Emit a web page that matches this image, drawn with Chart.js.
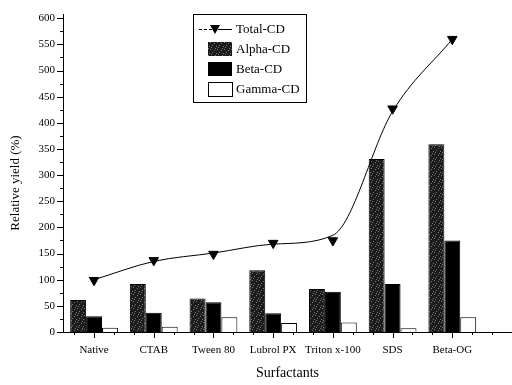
<!DOCTYPE html>
<html>
<head>
<meta charset="utf-8">
<script src="https://cdn.jsdelivr.net/npm/chart.js@4/dist/chart.umd.min.js"></script>
<style>
  html, body { margin: 0; padding: 0; background: #fff; }
  #wrap { width: 512px; height: 385px; }
</style>
</head>
<body>
<div id="wrap"><canvas id="myChart" width="512" height="385"></canvas></div>
<script>
// data
const surfactants = ['Native', 'CTAB', 'Tween 80', 'Lubrol PX', 'Triton x-100', 'SDS', 'Beta-OG'];
const alphaCD = [61, 92, 64, 118, 82, 331, 359];
const betaCD = [30, 37, 57, 36, 77, 92, 175];
const gammaCD = [8, 10, 28, 17, 18, 7, 28];
const totalCD = [99, 137, 149, 170, 175, 427, 560];
// smooth fitted curve through the totals
const totalFit = [100, 135, 151, 168, 185, 422, 560];
const yTicks = [0, 50, 100, 150, 200, 250, 300, 350, 400, 450, 500, 550, 600];

const serif = '"Liberation Serif", "Times New Roman", serif';

// speckled fill for the Alpha-CD bars
function makeSpeckle() {
    const c = document.createElement('canvas');
    c.width = 7; c.height = 7;
    const g = c.getContext('2d');
    g.fillStyle = '#1c1c1c';
    g.fillRect(0, 0, 7, 7);
    g.fillStyle = '#7a7a7a';
    const dots = [[0, 0], [4, 1], [2, 3], [6, 4], [1, 5], [5, 6]];
    dots.forEach(d => g.fillRect(d[0], d[1], 1, 1));
    return g.createPattern(c, 'repeat');
}

const ctx = document.getElementById('myChart').getContext('2d');
const speckle = makeSpeckle();

function xy(arr) {
    return arr.map((v, i) => ({ x: i + 1, y: v }));
}

// minor/major ticks, y title and the in-plot legend
const extras = {
    id: 'extras',
    afterDraw(chart) {
        const c = chart.ctx;
        const xs = chart.scales.x, ys = chart.scales.y;
        c.save();
        c.strokeStyle = '#000';
        c.lineWidth = 1;
        c.beginPath();
        for (let v = 0; v <= 600; v += 25) {
            const py = Math.round(ys.getPixelForValue(v)) + 0.5;
            const len = v % 50 === 0 ? 6 : 3;
            c.moveTo(xs.left - len, py);
            c.lineTo(xs.left, py);
        }
        for (let k = 0; k <= 22; k++) {
            const v = 2 / 3 + k / 3;
            const px = Math.round(xs.getPixelForValue(v)) + 0.5;
            const len = (k % 3 === 1) ? 6 : 3;
            c.moveTo(px, ys.bottom);
            c.lineTo(px, ys.bottom + len);
        }
        c.stroke();

        // y axis title
        c.save();
        c.translate(16, 183);
        c.rotate(-Math.PI / 2);
        c.font = '13px ' + serif;
        c.fillStyle = '#000';
        c.textAlign = 'center';
        c.textBaseline = 'middle';
        c.fillText('Relative yield (%)', 0, 0);
        c.restore();

        // legend box
        const bx = 193, by = 14, bw = 113, bh = 88;
        c.strokeRect(bx + 0.5, by + 0.5, bw, bh);
        c.font = '13px ' + serif;
        c.fillStyle = '#000';
        c.textBaseline = 'middle';
        const rows = [29, 49, 69, 89];
        const names = ['Total-CD', 'Alpha-CD', 'Beta-CD', 'Gamma-CD'];
        names.forEach((n, i) => c.fillText(n, 236, rows[i] + 1));

        // Total-CD symbol
        c.beginPath();
        c.setLineDash([3, 2]);
        c.moveTo(199, rows[0] + 0.5);
        c.lineTo(212, rows[0] + 0.5);
        c.stroke();
        c.setLineDash([]);
        c.beginPath();
        c.moveTo(218, rows[0] + 0.5);
        c.lineTo(232, rows[0] + 0.5);
        c.stroke();
        c.beginPath();
        c.moveTo(210, rows[0] - 4);
        c.lineTo(220, rows[0] - 4);
        c.lineTo(215, rows[0] + 5);
        c.closePath();
        c.fill();

        // bar swatches
        c.fillStyle = speckle;
        c.fillRect(208, rows[1] - 7, 24, 14);
        c.fillStyle = '#000';
        c.fillRect(208, rows[2] - 7, 24, 14);
        c.strokeRect(208.5, rows[3] - 6.5, 24, 14);
        c.restore();
    }
};

const barCommon = {
    type: 'bar',
    categoryPercentage: 0.8,
    barPercentage: 1.0,
    borderColor: '#000',
    borderWidth: 1,
    borderSkipped: 'bottom'
};

new Chart(ctx, {
    data: {
        datasets: [
            {
                type: 'line',
                label: 'Total-CD fit',
                data: xy(totalFit),
                borderColor: '#000',
                borderWidth: 1,
                pointRadius: 0,
                cubicInterpolationMode: 'monotone',
                fill: false,
                order: 0
            },
            {
                type: 'line',
                label: 'Total-CD',
                data: xy(totalCD),
                showLine: false,
                pointStyle: 'triangle',
                rotation: 180,
                pointRadius: 5.5,
                backgroundColor: '#000',
                borderColor: '#000',
                order: 0
            },
            Object.assign({}, barCommon, { label: 'Alpha-CD', data: xy(alphaCD), backgroundColor: speckle, order: 1 }),
            Object.assign({}, barCommon, { label: 'Beta-CD', data: xy(betaCD), backgroundColor: '#000', order: 1 }),
            Object.assign({}, barCommon, { label: 'Gamma-CD', data: xy(gammaCD), backgroundColor: '#fff', order: 1 })
        ]
    },
    options: {
        responsive: false,
        animation: false,
        devicePixelRatio: 1,
        layout: { autoPadding: false, padding: { top: 13, left: 0, right: 0, bottom: 0 } },
        plugins: {
            legend: { display: false },
            tooltip: { enabled: false }
        },
        scales: {
            x: {
                type: 'linear',
                min: 0.48,
                max: 8,
                offset: false,
                afterBuildTicks: s => { s.ticks = surfactants.map((_, i) => ({ value: i + 1 })); },
                afterFit: s => { s.height = 53; s.paddingRight = 0; },
                grid: { display: false, drawTicks: false, offset: false },
                border: { display: true, color: '#000', width: 1 },
                ticks: {
                    autoSkip: false,
                    maxRotation: 0,
                    padding: 12,
                    color: '#000',
                    font: { family: serif, size: 11 },
                    callback: (v, i) => surfactants[i]
                },
                title: {
                    display: true,
                    text: 'Surfactants',
                    color: '#000',
                    font: { family: serif, size: 14 },
                    padding: { top: 4, bottom: 3 }
                }
            },
            y: {
                min: 0,
                max: 607,
                afterBuildTicks: s => { s.ticks = yTicks.map(v => ({ value: v })); },
                afterFit: s => { s.width = 63; },
                grid: { display: false, drawTicks: false },
                border: { display: true, color: '#000', width: 1 },
                ticks: {
                    padding: 8,
                    color: '#000',
                    font: { family: serif, size: 11 }
                }
            }
        }
    },
    plugins: [extras]
});
</script>
</body>
</html>
